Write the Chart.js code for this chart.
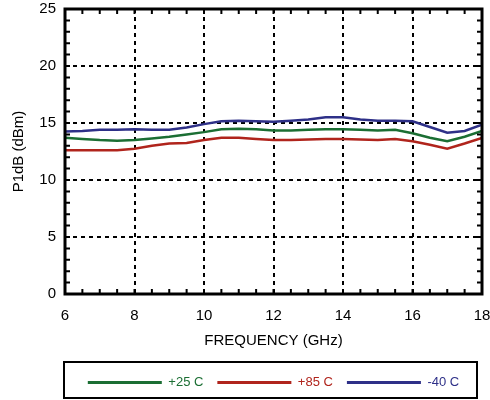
<!DOCTYPE html>
<html>
<head>
<meta charset="utf-8">
<script src="https://cdn.jsdelivr.net/npm/chart.js@4/dist/chart.umd.min.js"></script>
<style>
  html, body { margin: 0; padding: 0; background: #fff; }
  #wrap { width: 490px; height: 400px; }
</style>
</head>
<body>
<div id="wrap"><canvas id="chart1"></canvas></div>
<script>
//--------------------------data----------------------------------------
var freq_ghz = [6, 6.5, 7, 7.5, 8, 8.5, 9, 9.5, 10, 10.5, 11, 11.5, 12,
                12.5, 13, 13.5, 14, 14.5, 15, 15.5, 16, 16.5, 17, 17.5, 18];
var p1db_p25 = [13.7, 13.6, 13.5, 13.45, 13.5, 13.65, 13.8, 14.0, 14.2, 14.45, 14.5, 14.45, 14.35,
                14.35, 14.4, 14.45, 14.45, 14.4, 14.35, 14.4, 14.1, 13.7, 13.4, 13.8, 14.3];
var p1db_p85 = [12.6, 12.6, 12.6, 12.6, 12.75, 13.0, 13.2, 13.25, 13.5, 13.7, 13.7, 13.6, 13.5,
                13.5, 13.55, 13.6, 13.6, 13.55, 13.5, 13.6, 13.4, 13.1, 12.75, 13.2, 13.7];
var p1db_m40 = [14.25, 14.3, 14.4, 14.4, 14.45, 14.4, 14.4, 14.6, 14.9, 15.15, 15.2, 15.15, 15.1,
                15.2, 15.3, 15.5, 15.5, 15.3, 15.2, 15.2, 15.15, 14.65, 14.15, 14.3, 14.85];
var series_labels = ["+25 C", "+85 C", "-40 C"];
var series_colors = ["#1b6e33", "#b0241c", "#2e3088"];

function pts(ys) {
  return freq_ghz.map(function (x, i) { return { x: x, y: ys[i] }; });
}

Chart.defaults.font.family = 'Liberation Sans, Arial, sans-serif';

//frame round the plot, with small inward ticks on all four sides
var framePlugin = {
  id: 'frame',
  afterDraw: function (chart) {
    var ctx = chart.ctx, a = chart.chartArea;
    var xs = chart.scales.x, ys = chart.scales.y;
    ctx.save();
    ctx.strokeStyle = '#000';
    ctx.lineWidth = 2;
    ctx.beginPath();
    for (var v = 6.5; v < 18; v += 0.5) {
      var px = xs.getPixelForValue(v);
      ctx.moveTo(px, a.bottom); ctx.lineTo(px, a.bottom - 5);
      ctx.moveTo(px, a.top); ctx.lineTo(px, a.top + 5);
    }
    for (var w = 1; w < 25; w += 1) {
      var py = ys.getPixelForValue(w);
      ctx.moveTo(a.left, py); ctx.lineTo(a.left + 5, py);
      ctx.moveTo(a.right, py); ctx.lineTo(a.right - 5, py);
    }
    ctx.stroke();
    ctx.lineWidth = 3;
    ctx.strokeRect(a.left, a.top, a.right - a.left, a.bottom - a.top);
    //box round the legend
    var lg = chart.legend;
    ctx.lineWidth = 2;
    ctx.strokeRect(a.left - 1, lg.top, a.right - a.left - 4, lg.bottom - lg.top - 1);
    ctx.restore();
  }
};

var chartLine = document.getElementById("chart1").getContext('2d');
var myChart = new Chart(chartLine, {
  type: 'line',
  data: {
    datasets: [
      { label: series_labels[0], data: pts(p1db_p25) },
      { label: series_labels[1], data: pts(p1db_p85) },
      { label: series_labels[2], data: pts(p1db_m40) }
    ].map(function (d, i) {
      d.borderColor = series_colors[i];
      d.backgroundColor = series_colors[i];
      d.borderWidth = 2.5;
      d.pointRadius = 0;
      d.tension = 0;
      return d;
    })
  },
  options: {
    responsive: true,
    maintainAspectRatio: false,
    animation: false,
    layout: { padding: { left: 0, right: 8, top: 9, bottom: 1 } },
    scales: {
      x: {
        type: 'linear',
        min: 6, max: 18,
        afterFit: function (s) { s.height = 68; s.paddingLeft = 0; s.paddingRight = 0; },
        ticks: { stepSize: 2, color: '#000', font: { size: 15 }, padding: 13 },
        grid: {
          color: function (c) { return (c.tick.value === 6 || c.tick.value === 18) ? 'rgba(0,0,0,0)' : '#000'; },
          lineWidth: 2, drawTicks: false
        },
        border: { display: false, dash: [4, 4] },
        title: { display: true, text: 'FREQUENCY (GHz)', color: '#000', font: { size: 15 }, padding: { top: 0, bottom: 12 } }
      },
      y: {
        min: 0, max: 25,
        afterFit: function (s) { s.width = 65; s.paddingTop = 0; s.paddingBottom = 0; },
        ticks: { stepSize: 5, color: '#000', font: { size: 15 }, padding: 9 },
        grid: {
          color: function (c) { return (c.tick.value === 0 || c.tick.value === 25) ? 'rgba(0,0,0,0)' : '#000'; },
          lineWidth: 2, drawTicks: false
        },
        border: { display: false, dash: [4, 4] },
        title: { display: true, text: 'P1dB (dBm)', color: '#000', font: { size: 15 }, padding: { top: 10, bottom: 0 } }
      }
    },
    plugins: {
      tooltip: { enabled: false },
      legend: {
        position: 'bottom',
        fullSize: false,
        labels: {
          boxWidth: 74,
          boxHeight: 3,
          padding: 14,
          font: { size: 13 },
          generateLabels: function (chart) {
            return chart.data.datasets.map(function (d, i) {
              return {
                text: d.label,
                fillStyle: d.borderColor,
                strokeStyle: d.borderColor,
                fontColor: d.borderColor,
                lineWidth: 0,
                datasetIndex: i
              };
            });
          }
        }
      }
    }
  },
  plugins: [framePlugin]
});
</script>
</body>
</html>
